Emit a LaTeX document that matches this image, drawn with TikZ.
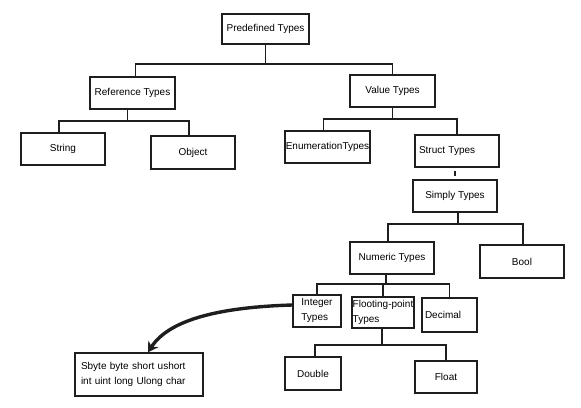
\documentclass[tikz,border=0pt]{standalone}
\usepackage{fontspec}
\setmainfont{Liberation Sans}
\usetikzlibrary{arrows.meta}
\definecolor{ink}{HTML}{1E1E1E}
\tikzset{
  box/.style={draw=ink, line width=1.4pt, inner sep=0pt, font=\fontsize{10}{15}\selectfont, text=black},
  conn/.style={draw=ink, line width=1.2pt},
  bigarrow/.style={draw=ink, line width=3.4pt, -{Stealth[length=10pt,width=12pt]}},
}
\begin{document}
\begin{tikzpicture}[x=1pt,y=-1pt]
\useasboundingbox (0,0) rectangle (581,407);
\node[box, minimum width=87pt, minimum height=30pt] (pre) at (265.5,29) {Predefined Types};
\node[box, minimum width=85pt, minimum height=32pt] (ref) at (132.5,93) {Reference Types};
\node[box, minimum width=85pt, minimum height=32pt] (val) at (392.5,91) {Value Types};
\node[box, minimum width=84pt, minimum height=32pt] (str) at (63,149) {String};
\node[box, minimum width=84pt, minimum height=33pt] (obj) at (193,152.5) {Object};
\node[box, minimum width=85pt, minimum height=32pt] (enum) at (327.5,147) {EnumerationTypes};
\node[box, minimum width=84pt, minimum height=32pt, text width=76pt, align=left] (struct) at (457,151) {Struct Types};
\node[box, minimum width=84pt, minimum height=32pt] (simply) at (455,196) {Simply Types};
\node[box, minimum width=84pt, minimum height=32pt] (num) at (392,258) {Numeric Types};
\node[box, minimum width=84pt, minimum height=33pt] (bool) at (522,261.5) {Bool};
\node[box, minimum width=48pt, minimum height=32pt, align=left] (int) at (317,311) {Integer\\Types};
\node[box, minimum width=62pt, minimum height=31pt, align=left] (flo) at (383,312.5) {Flooting-point\\Types};
\node[box, minimum width=55pt, minimum height=34pt, text width=49pt, align=left] (dec) at (449.5,315) {Decimal};
\node[box, minimum width=56pt, minimum height=33pt] (dbl) at (313,373.5) {Double};
\node[box, minimum width=62pt, minimum height=32pt] (flt) at (446,377) {Float};
\node[box, minimum width=128pt, minimum height=43pt, text width=116pt, align=left] (sb) at (139,374.5) {Sbyte byte short ushort\\int uint long Ulong char};
% bus levels
\coordinate (b1) at (0,64);
\coordinate (b2) at (0,121);
\coordinate (b3) at (0,119);
\coordinate (b4) at (0,224);
\coordinate (b5) at (0,284);
\coordinate (b6) at (0,345);
% connectors
\draw[conn] (pre.south) -- (pre.south |- b1);
\draw[conn] ([xshift=3pt]ref.north) |- (val.north |- b1) -- (val.north);
\draw[conn] ([xshift=-5pt]ref.south) -- ([xshift=-5pt]ref.south |- b2);
\draw[conn] ([xshift=-4pt]str.north) |- ([xshift=-4pt]obj.north |- b2) -- ([xshift=-4pt]obj.north);
\draw[conn] (val.south) -- (val.south |- b3);
\draw[conn] ([xshift=-4pt]enum.north) |- (struct.north |- b3) -- (struct.north);
\draw[conn, shorten <=3pt, shorten >=3pt] ([xshift=-2pt]struct.south) -- ([xshift=-2pt]struct.south |- simply.north);
\draw[conn] ([xshift=3pt]simply.south) -- ([xshift=3pt]simply.south |- b4);
\draw[conn] ([xshift=-4pt]num.north) |- ([xshift=1pt]bool.north |- b4) -- ([xshift=1pt]bool.north);
\draw[conn] ([xshift=-6pt]num.south) -- ([xshift=-6pt]num.south |- b5);
\draw[conn] (int.north) |- (dec.north |- b5) -- (dec.north);
\draw[conn] (flo.north |- b5) -- (flo.north);
\draw[conn] ([xshift=-1pt]flo.south) -- ([xshift=-1pt]flo.south |- b6);
\draw[conn] ([xshift=2pt]dbl.north) |- (flt.north |- b6) -- (flt.north);
% curved arrow
\draw[bigarrow] ([yshift=6pt]int.west) .. controls (225,307) and (170,318) .. ([xshift=9pt]sb.north);
\end{tikzpicture}
\end{document}
